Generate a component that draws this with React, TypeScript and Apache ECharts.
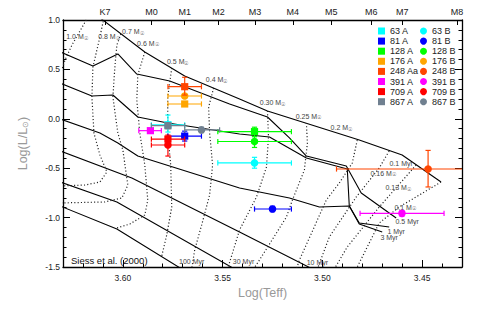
import React, { useEffect, useRef } from "react";
import * as echarts from "echarts";

const FONT = "'Liberation Sans', Arial, Helvetica, sans-serif";

// Top axis: spectral types and their log(Teff)
const spectralTypes = ["K7", "M0", "M1", "M2", "M3", "M4", "M5", "M6", "M7", "M8"];
const spectralLogTeff = [3.609, 3.5857, 3.569, 3.552, 3.5337, 3.5148, 3.4955, 3.4755, 3.46, 3.4325];
const xTickLabels = [3.45, 3.5, 3.55, 3.6];

// Isochrones (solid) [logTeff, logL]
const iso01Myr = [[3.611, 1.015], [3.589, 0.676], [3.569, 0.433], [3.5415, 0.2], [3.5275, 0.079], [3.4815, -0.215], [3.46, -0.366], [3.4405, -0.64]];
const iso05Myr = [[3.632, 0.683], [3.615, 0.534], [3.6025, 0.656], [3.593, 0.453], [3.5765, 0.383], [3.5465, 0.15], [3.5275, 0.018], [3.5165, -0.194], [3.508, -0.377], [3.488, -0.478], [3.4805, -0.751], [3.463, -1.004]];
const iso1Myr = [[3.632, 0.366], [3.6155, 0.231], [3.605, 0.241], [3.5925, 0.018], [3.5775, -0.042], [3.5415, -0.154], [3.5265, -0.184], [3.508, -0.397], [3.4875, -0.508], [3.4865, -0.883], [3.4815, -1.055], [3.4665, -1.095]];
const iso3Myr = [[3.632, 0.003], [3.6115, -0.144], [3.6025, -0.245], [3.5925, -0.377], [3.5415, -0.7], [3.5165, -0.802], [3.5015, -0.893], [3.4865, -0.883], [3.4815, -1.065], [3.47, -1.146]];
const iso10Myr = [[3.632, -0.321], [3.5955, -0.599], [3.5415, -1.146], [3.504, -1.53]];
const iso30Myr = [[3.632, -0.635], [3.603, -0.842], [3.544, -1.52]];
const iso100Myr = [[3.632, -0.878], [3.603, -1.115], [3.5705, -1.52]];
const isochrones = [iso01Myr, iso05Myr, iso1Myr, iso3Myr, iso10Myr, iso30Myr, iso100Myr];

// Evolutionary tracks (dotted) [logTeff, logL]
const track10 = [[3.6175, 1.03], [3.6255, 0.747], [3.629, 0.595], [3.6315, 0.443]];
const track08 = [[3.6095, 1.02], [3.6115, 0.828], [3.615, 0.524], [3.6155, 0.221], [3.6145, -0.144], [3.6115, -0.366], [3.608, -0.538], [3.6115, -0.64], [3.619, -0.67], [3.632, -0.68]];
const track07 = [[3.601, 0.858], [3.603, 0.747], [3.604, 0.524], [3.605, 0.221], [3.6025, -0.144], [3.6, -0.316], [3.5975, -0.67], [3.6005, -0.802], [3.609, -0.842], [3.632, -0.852]];
const track06 = [[3.589, 0.676], [3.5925, 0.443], [3.593, 0.19], [3.5915, -0.144], [3.589, -0.468], [3.5875, -0.822], [3.589, -0.974], [3.5965, -1.065], [3.603, -1.105]];
const track05 = [[3.5755, 0.514], [3.5775, 0.221], [3.5775, -0.144], [3.576, -0.468], [3.5755, -0.893], [3.578, -1.176], [3.5805, -1.389]];
const track04 = [[3.5545, 0.312], [3.557, 0.119], [3.5565, -0.144], [3.555, -0.468], [3.5565, -0.771], [3.5605, -1.075], [3.564, -1.328], [3.5655, -1.52]];
const track030 = [[3.5275, 0.079], [3.527, -0.184], [3.528, -0.488], [3.533, -0.791], [3.5415, -1.125], [3.5475, -1.52]];
const track025 = [[3.508, -0.042], [3.5075, -0.245], [3.509, -0.518], [3.515, -0.822], [3.518, -0.994], [3.5315, -1.429], [3.5345, -1.52]];
const track02 = [[3.4825, -0.215], [3.485, -0.447], [3.4915, -0.65], [3.498, -0.822], [3.5115, -1.429], [3.513, -1.52]];
const track016 = [[3.4665, -0.326], [3.4715, -0.498], [3.483, -0.791], [3.4965, -1.196], [3.5025, -1.52]];
const track013 = [[3.453, -0.468], [3.4715, -0.893], [3.4875, -1.297], [3.494, -1.52]];
const track01 = [[3.4405, -0.64], [3.4615, -0.893], [3.4715, -1.055], [3.483, -1.52]];
const tracks = [track10, track08, track07, track06, track05, track04, track030, track025, track02, track016, track013, track01];

// Track / isochrone annotations
const massLabelText = ["1.0", "0.8", "0.7", "0.6", "0.5", "0.4", "0.30", "0.25", "0.2", "0.16", "0.13", "0.1"];
const massLabelLogTeff = [3.623, 3.607, 3.595, 3.5875, 3.5725, 3.553, 3.525, 3.507, 3.4905, 3.4695, 3.462, 3.4585];
const massLabelLogL = [0.828, 0.828, 0.879, 0.767, 0.575, 0.393, 0.16, 0.028, -0.093, -0.549, -0.7, -0.893];
const ageLabelText = ["0.1 Myr", "0.5 Myr", "1 Myr", "3 Myr", "10 Myr", "30 Myr", "100 Myr"];
const ageLabelLogTeff = [3.4605, 3.4575, 3.463, 3.4665, 3.5025, 3.5395, 3.5655];
const ageLabelLogL = [-0.457, -1.044, -1.136, -1.206, -1.459, -1.449, -1.449];

// Stars
const starLabelsA = ["63 A", "81 A", "128 A", "176 A", "248 Aa", "391 A", "709 A", "867 A"];
const starLabelsB = ["63 B", "81 B", "128 B", "176 B", "248 B", "391 B", "709 B", "867 B"];
const starColors = ["#00FFFF", "#0000FF", "#00FF00", "#FFA500", "#FF4500", "#FF00FF", "#FF0000", "#708090"];

const aLogTeff = [3.5774, 3.569, 3.534, 3.569, 3.569, 3.5862, 3.5774, 3.5774];
const aLogL = [-0.06, -0.175, -0.13, 0.15, 0.325, -0.12, -0.205, -0.07];
const aTeffHot = [3.5857, 3.5774, 3.5524, 3.5774, 3.5774, 3.592, 3.5857, 3.5857];
const aTeffCool = [3.569, 3.5606, 3.5155, 3.5606, 3.5606, 3.5807, 3.569, 3.569];
const aLogLLow = [-0.134, -0.225, -0.18, 0.13, 0.24, -0.14, -0.245, -0.1];
const aLogLHigh = [0.038, -0.125, -0.085, 0.17, 0.42, -0.1, -0.165, -0.04];

const bLogTeff = [3.534, 3.525, 3.534, 3.569, 3.447, 3.4601, 3.5774, 3.5606];
const bLogL = [-0.447, -0.913, -0.23, 0.231, -0.508, -0.957, -0.265, -0.113];
const bTeffHot = [3.5524, 3.534, 3.5524, 3.5774, 3.4929, 3.4811, 3.5857, 3.569];
const bTeffCool = [3.5155, 3.5155, 3.5155, 3.5606, 3.4, 3.439, 3.569, 3.5515];
const bLogLLow = [-0.5, -0.94, -0.29, 0.21, -0.69, -0.985, -0.377, -0.14];
const bLogLHigh = [-0.39, -0.885, -0.18, 0.25, -0.32, -0.93, -0.19, -0.085];

const X_MIN = 3.43;
const X_MAX = 3.63;

function starSeries(name: string, color: string, shape: "rect" | "circle", vals: number[]) {
  return {
    type: "custom",
    name,
    coordinateSystem: "cartesian2d",
    xAxisIndex: 0,
    yAxisIndex: 0,
    itemStyle: { color },
    z: 5,
    silent: true,
    data: [vals],
    renderItem: (params: any, api: any) => {
      const cs = params.coordSys;
      const inX = (x: number) => x >= cs.x - 0.5 && x <= cs.x + cs.width + 0.5;
      const clampX = (x: number) => Math.max(cs.x, Math.min(cs.x + cs.width, x));
      const p = api.coord([api.value(0), api.value(1)]);
      const xa = api.coord([api.value(2), api.value(1)])[0];
      const xb = api.coord([api.value(3), api.value(1)])[0];
      const ya = api.coord([api.value(0), api.value(4)])[1];
      const yb = api.coord([api.value(0), api.value(5)])[1];
      const cap = 2.6;
      const ls = { stroke: color, lineWidth: 1.2 };
      const children: any[] = [
        { type: "line", shape: { x1: clampX(xa), y1: p[1], x2: clampX(xb), y2: p[1] }, style: ls },
        { type: "line", shape: { x1: p[0], y1: ya, x2: p[0], y2: yb }, style: ls },
        { type: "line", shape: { x1: p[0] - cap, y1: ya, x2: p[0] + cap, y2: ya }, style: ls },
        { type: "line", shape: { x1: p[0] - cap, y1: yb, x2: p[0] + cap, y2: yb }, style: ls },
      ];
      if (inX(xa)) children.push({ type: "line", shape: { x1: xa, y1: p[1] - cap, x2: xa, y2: p[1] + cap }, style: ls });
      if (inX(xb)) children.push({ type: "line", shape: { x1: xb, y1: p[1] - cap, x2: xb, y2: p[1] + cap }, style: ls });
      if (shape === "rect") {
        children.push({ type: "rect", shape: { x: p[0] - 3.6, y: p[1] - 3.6, width: 7.2, height: 7.2 }, style: { fill: color } });
      } else {
        children.push({ type: "circle", shape: { cx: p[0], cy: p[1], r: 3.8 }, style: { fill: color } });
      }
      return { type: "group", children };
    },
  };
}

function textSeries(texts: string[], xs: number[], ys: number[], withMass: boolean) {
  return {
    type: "custom",
    coordinateSystem: "cartesian2d",
    xAxisIndex: 0,
    yAxisIndex: 0,
    silent: true,
    z: 4,
    data: texts.map((_, i) => [xs[i], ys[i], i]),
    renderItem: (params: any, api: any) => {
      const i = api.value(2);
      const p = api.coord([api.value(0), api.value(1)]);
      return {
        type: "text",
        x: p[0],
        y: p[1],
        style: {
          text: withMass ? texts[i] + " M{s|\u2609}" : texts[i],
          rich: { s: { fontSize: 5, fill: "#444", fontFamily: FONT, verticalAlign: "bottom" } },
          fontSize: 7,
          fontFamily: FONT,
          fill: "#444",
          align: "center",
          verticalAlign: "middle",
        },
      };
    },
  };
}

export default function App() {
  const ref = useRef<HTMLDivElement>(null);
  useEffect(() => {
    if (!ref.current) return;
    const chart = echarts.init(ref.current, undefined, { renderer: "svg" });

    const lineSeries: any[] = [];
    isochrones.forEach((d) =>
      lineSeries.push({
        type: "line",
        data: d,
        xAxisIndex: 0,
        yAxisIndex: 0,
        showSymbol: false,
        symbol: "none",
        silent: true,
        z: 2,
        lineStyle: { color: "#000", width: 1.1 },
      })
    );
    tracks.forEach((d) =>
      lineSeries.push({
        type: "line",
        data: d,
        xAxisIndex: 0,
        yAxisIndex: 0,
        showSymbol: false,
        symbol: "none",
        silent: true,
        z: 2,
        lineStyle: { color: "#222", width: 1.2, type: [1.1, 2.2] },
      })
    );

    const stars: any[] = [];
    starLabelsA.forEach((_, i) => {
      stars.push(starSeries(starLabelsA[i], starColors[i], "rect", [aLogTeff[i], aLogL[i], aTeffHot[i], aTeffCool[i], aLogLLow[i], aLogLHigh[i]]));
      stars.push(starSeries(starLabelsB[i], starColors[i], "circle", [bLogTeff[i], bLogL[i], bTeffHot[i], bTeffCool[i], bLogLLow[i], bLogLHigh[i]]));
    });

    const axisLine = { show: true, onZero: false, lineStyle: { color: "#000", width: 1.3 } };
    const tickLine = { color: "#000", width: 1 };

    const legendBase = {
      orient: "vertical",
      top: 26.5,
      itemWidth: 7,
      itemHeight: 7,
      itemGap: 1.1,
      padding: 0,
      selectedMode: false,
      textStyle: { fontSize: 9, color: "#222", fontFamily: FONT },
    };

    const option: any = {
      animation: false,
      textStyle: { fontFamily: FONT },
      title: {
        text: "Siess et al. (2000)",
        left: 71,
        top: 255,
        padding: 0,
        textStyle: { fontSize: 9.5, fontWeight: "normal", color: "#111", fontFamily: FONT },
      },
      legend: [
        { ...legendBase, left: 378, data: starLabelsA.map((n) => ({ name: n, icon: "rect" })) },
        { ...legendBase, left: 420, data: starLabelsB.map((n) => ({ name: n, icon: "circle" })) },
      ],
      grid: [
        { left: 63, top: 20, width: 399, height: 247 },
        { left: 63, top: 20, width: 399, height: 247 },
      ],
      xAxis: [
        {
          gridIndex: 0,
          type: "value",
          position: "bottom",
          min: X_MIN,
          max: X_MAX,
          interval: 0.01,
          inverse: true,
          axisLine,
          axisTick: { show: true, inside: true, length: 3.5, lineStyle: tickLine },
          axisLabel: {
            show: true,
            customValues: xTickLabels,
            formatter: (v: number) => v.toFixed(2),
            fontSize: 8.5,
            color: "#222",
            margin: 6,
          },
          splitLine: { show: false },
          name: "Log(Teff)",
          nameLocation: "middle",
          nameGap: 18,
          nameTextStyle: { fontSize: 12.5, color: "#999", fontFamily: FONT },
        },
        {
          gridIndex: 0,
          type: "value",
          position: "top",
          min: X_MIN,
          max: X_MAX,
          inverse: true,
          axisLine,
          axisTick: { show: true, inside: true, length: 5, customValues: spectralLogTeff, lineStyle: tickLine },
          axisLabel: {
            show: true,
            customValues: spectralLogTeff,
            formatter: (v: number) => {
              let best = 0;
              spectralLogTeff.forEach((t, i) => {
                if (Math.abs(t - v) < Math.abs(spectralLogTeff[best] - v)) best = i;
              });
              return spectralTypes[best];
            },
            fontSize: 9,
            color: "#222",
            margin: 4,
          },
          splitLine: { show: false },
        },
        {
          gridIndex: 1,
          type: "value",
          position: "bottom",
          min: X_MIN,
          max: X_MAX,
          inverse: true,
          axisLine: { show: false, onZero: false },
          axisTick: { show: true, inside: true, length: 7, customValues: xTickLabels, lineStyle: tickLine },
          axisLabel: { show: false },
          splitLine: { show: false },
        },
      ],
      yAxis: [
        {
          gridIndex: 0,
          type: "value",
          position: "left",
          min: -1.5,
          max: 1.0,
          interval: 0.5,
          axisLine,
          axisTick: { show: true, inside: true, length: 7, lineStyle: tickLine },
          minorTick: { show: true, splitNumber: 5, length: 3.5, lineStyle: tickLine },
          axisLabel: { formatter: (v: number) => v.toFixed(1), fontSize: 8.5, color: "#222", margin: 3 },
          splitLine: { show: false },
          minorSplitLine: { show: false },
          name: "Log(L/L{s|\u2299})",
          nameLocation: "middle",
          nameGap: 34,
          nameTextStyle: {
            fontSize: 12.5,
            color: "#999",
            fontFamily: FONT,
            rich: { s: { fontSize: 8, color: "#999", fontFamily: FONT, verticalAlign: "bottom" } },
          },
        },
        {
          gridIndex: 0,
          type: "value",
          position: "right",
          min: -1.5,
          max: 1.0,
          interval: 0.5,
          axisLine,
          axisTick: { show: true, inside: true, length: 7, lineStyle: tickLine },
          minorTick: { show: true, splitNumber: 5, length: 3.5, lineStyle: tickLine },
          axisLabel: { show: false },
          splitLine: { show: false },
          minorSplitLine: { show: false },
        },
        {
          gridIndex: 1,
          type: "value",
          min: -1.5,
          max: 1.0,
          axisLine: { show: false, onZero: false },
          axisTick: { show: false },
          axisLabel: { show: false },
          splitLine: { show: false },
        },
      ],
      series: [
        ...lineSeries,
        textSeries(massLabelText, massLabelLogTeff, massLabelLogL, true),
        textSeries(ageLabelText, ageLabelLogTeff, ageLabelLogL, false),
        ...stars,
      ],
    };
    chart.setOption(option);
    return () => chart.dispose();
  }, []);
  return <div ref={ref} style={{ position: "absolute", left: 0, top: 0, width: 480, height: 310 }} />;
}
